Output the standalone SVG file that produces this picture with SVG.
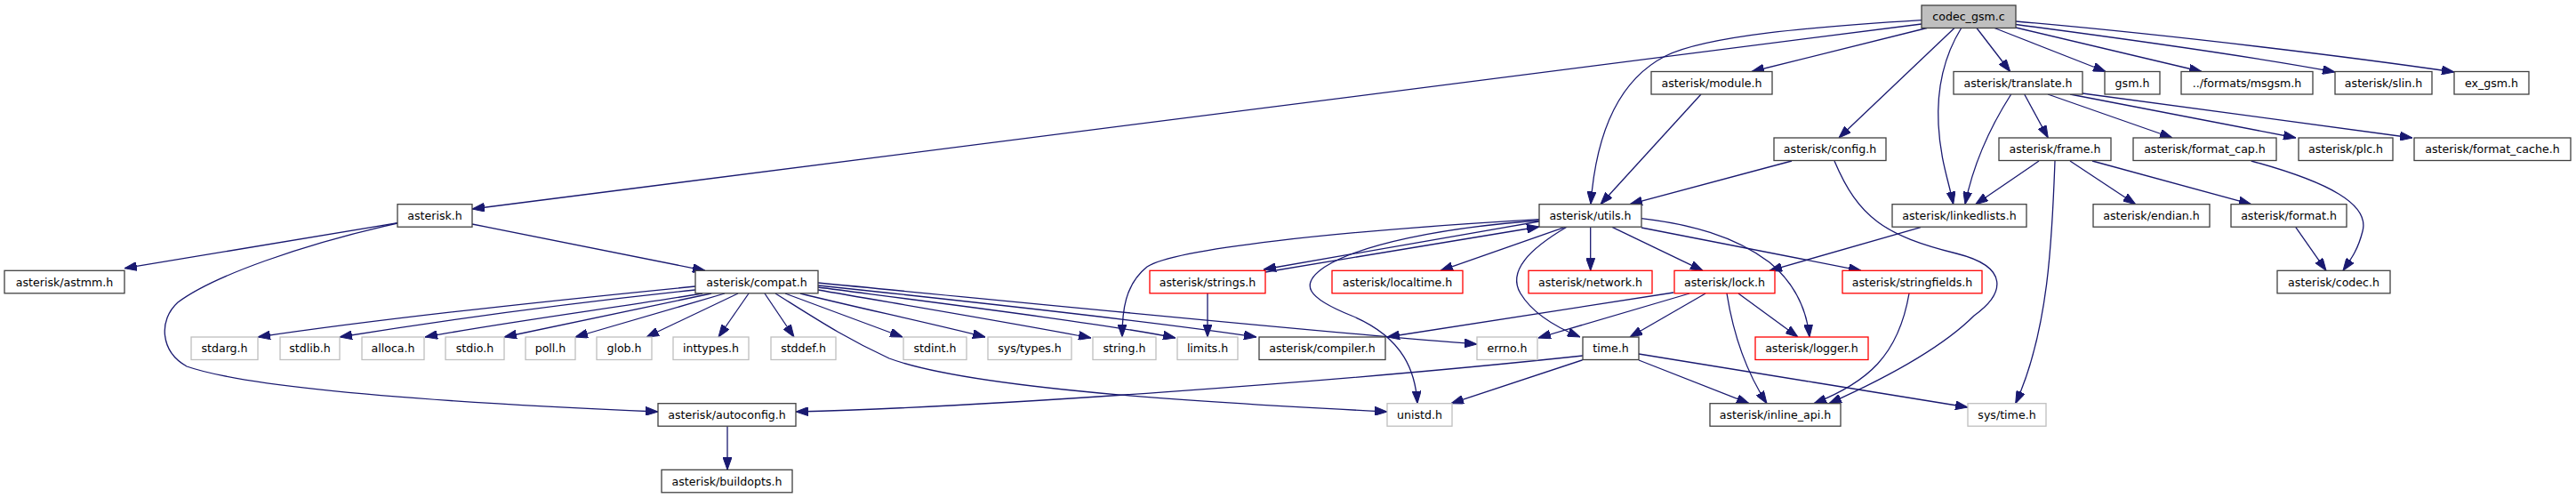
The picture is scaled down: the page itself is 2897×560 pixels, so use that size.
<svg xmlns="http://www.w3.org/2000/svg" width="2897" height="560" viewBox="0 0 2897 560">
<style>
rect{fill:#fff;stroke-width:1.3}
.k rect{stroke:#404040}
.g rect{stroke:#bfbfbf}
.r rect{stroke:#ff0000}
.root rect{fill:#bfbfbf;stroke:#404040}
text{font-family:"DejaVu Sans",sans-serif;font-size:12.6px;fill:#000;text-anchor:middle}
#edges path{fill:none;stroke:#191970;stroke-width:1.3;marker-end:url(#ah)}
</style>
<defs>
<marker id="ah" markerUnits="userSpaceOnUse" markerWidth="14" markerHeight="10" refX="14" refY="5" orient="auto">
<path d="M0,0 L14,5 L0,10 z" fill="#191970" stroke="#191970" stroke-width="1"/>
</marker>
</defs>
<rect x="0" y="0" width="2897" height="560" style="fill:#fff;stroke:none"/>
<g id="edges">
<path d="M2161,27 L531,235"/>
<path d="M2161,22.7 C2040,30 1920,40 1873,63 C1820,90 1795,150 1789,229.5"/>
<path d="M2167,31.5 L1970,80.5"/>
<path d="M2198,31.5 L2068,155"/>
<path d="M2205.7,31.5 C2185,65 2178,100 2180,140 C2182,180 2192,205 2196.7,229.7"/>
<path d="M2223,31.5 L2260.7,80.5"/>
<path d="M2243,31.5 L2368,80.5"/>
<path d="M2267,31 L2476,80.5"/>
<path d="M2267,27.5 C2400,45 2540,65 2626,81"/>
<path d="M2267,24 C2450,40 2650,65 2760,81"/>
<path d="M1913,106 L1800,229.7"/>
<path d="M2015,181 L1833,229.7"/>
<path d="M2063,181 C2090,245 2120,265 2200,285 C2260,300 2255,330 2220,355 C2180,395 2110,430 2057,453.7"/>
<path d="M2261.7,106 C2240,140 2220,180 2210,229.7"/>
<path d="M2276.7,106 L2303.3,155"/>
<path d="M2303,106 L2443,155"/>
<path d="M2328,106 L2582,155"/>
<path d="M2342,105 L2713,155"/>
<path d="M2293,181 L2221.7,229.7"/>
<path d="M2311,181 C2308,260 2305,370 2266.7,453.7"/>
<path d="M2328,181 L2401.7,229.7"/>
<path d="M2353,181 L2531.7,229.7"/>
<path d="M2531.7,181 C2620,205 2665,230 2657,260 C2652,280 2645,290 2635,304.3"/>
<path d="M2581.7,255.3 L2616,304.3"/>
<path d="M2160,255.7 L1990,304.3"/>
<path d="M1731,249 L1421,303"/>
<path d="M1423,306 L1731,255"/>
<path d="M1731,246.7 C1500,260 1320,280 1290,300 C1265,320 1262,350 1262,379"/>
<path d="M1731,248 C1620,256 1530,275 1490,300 C1460,320 1470,335 1520,355 C1580,380 1592,420 1594,453.7"/>
<path d="M1760,255.3 L1620,304.3"/>
<path d="M1762,255.3 C1720,280 1695,305 1710,330 C1725,355 1755,370 1777,379"/>
<path d="M1788.7,255.3 L1788.7,304.3"/>
<path d="M1813,255.3 L1915,304.3"/>
<path d="M1846,256 L2093,304.3"/>
<path d="M1846,245.7 C1900,252 1950,265 1990,295 C2020,320 2032,350 2035,379"/>
<path d="M447,250.7 L140,301.7"/>
<path d="M531,252 L793,304.3"/>
<path d="M447,251 C340,275 240,310 200,340 C178,360 180,395 210,412 C290,440 550,455 740,463"/>
<path d="M782,322 C650,335 450,355 290,379"/>
<path d="M782,326 C650,340 500,360 382,379"/>
<path d="M790,330 C700,345 570,362 478,379"/>
<path d="M800,330 L567,379"/>
<path d="M815,330 L647,379"/>
<path d="M830,330 L727,379"/>
<path d="M842,330 L808,379"/>
<path d="M860,330 L893,379"/>
<path d="M883,330 L1015,379"/>
<path d="M900,330 C960,345 1040,362 1108,379"/>
<path d="M920,326 C1000,340 1150,365 1227,380"/>
<path d="M920,323 C1050,340 1250,365 1322,380"/>
<path d="M920,321 C1100,340 1320,365 1413,379"/>
<path d="M920,318 C1200,345 1500,375 1661,387"/>
<path d="M872,330 C920,360 950,380 1000,403 C1100,440 1400,455 1560,463"/>
<path d="M1358,330 L1358,379"/>
<path d="M1882,329 L1560,379"/>
<path d="M1900,330 L1730,380"/>
<path d="M1918,330 L1833,379"/>
<path d="M1955,330 L2022,379"/>
<path d="M1942,330 C1950,380 1965,420 1987,453.7"/>
<path d="M2147,330 C2135,400 2100,430 2040,453.7"/>
<path d="M1780,400 C1500,430 1100,458 895,463"/>
<path d="M1780,404.7 L1632,453.7"/>
<path d="M1843,405 L1967,453.7"/>
<path d="M1843,398 C1950,415 2100,440 2213,458"/>
<path d="M818,479.3 L818,528.3"/>
</g>
<g id="n_codec_gsm" class="root"><rect x="2161" y="6" width="106" height="25.5"/><text x="2214" y="23.3">codec_gsm.c</text></g>
<g id="n_module" class="k"><rect x="1857" y="80.5" width="136" height="25.5"/><text x="1925" y="97.8">asterisk/module.h</text></g>
<g id="n_translate" class="k"><rect x="2197" y="80.5" width="145" height="25.5"/><text x="2269.5" y="97.8">asterisk/translate.h</text></g>
<g id="n_gsm" class="k"><rect x="2367" y="80.5" width="62" height="25.5"/><text x="2398" y="97.8">gsm.h</text></g>
<g id="n_msgsm" class="k"><rect x="2453" y="80.5" width="148" height="25.5"/><text x="2527" y="97.8">../formats/msgsm.h</text></g>
<g id="n_slin" class="k"><rect x="2626" y="80.5" width="109" height="25.5"/><text x="2680.5" y="97.8">asterisk/slin.h</text></g>
<g id="n_ex_gsm" class="k"><rect x="2760" y="80.5" width="84" height="25.5"/><text x="2802" y="97.8">ex_gsm.h</text></g>
<g id="n_config" class="k"><rect x="1995" y="155" width="126" height="25.5"/><text x="2058" y="172.3">asterisk/config.h</text></g>
<g id="n_frame" class="k"><rect x="2248" y="155" width="126" height="25.5"/><text x="2311" y="172.3">asterisk/frame.h</text></g>
<g id="n_format_cap" class="k"><rect x="2399" y="155" width="161" height="25.5"/><text x="2479.5" y="172.3">asterisk/format_cap.h</text></g>
<g id="n_plc" class="k"><rect x="2585" y="155" width="106" height="25.5"/><text x="2638" y="172.3">asterisk/plc.h</text></g>
<g id="n_format_cache" class="k"><rect x="2715" y="155" width="176" height="25.5"/><text x="2803" y="172.3">asterisk/format_cache.h</text></g>
<g id="n_asterisk" class="k"><rect x="447" y="229.7" width="84" height="25.5"/><text x="489" y="247">asterisk.h</text></g>
<g id="n_utils" class="k"><rect x="1731" y="229.7" width="115" height="25.5"/><text x="1788.5" y="247">asterisk/utils.h</text></g>
<g id="n_linkedlists" class="k"><rect x="2128" y="229.7" width="151" height="25.5"/><text x="2203.5" y="247">asterisk/linkedlists.h</text></g>
<g id="n_endian" class="k"><rect x="2354" y="229.7" width="131" height="25.5"/><text x="2419.5" y="247">asterisk/endian.h</text></g>
<g id="n_format" class="k"><rect x="2509" y="229.7" width="130" height="25.5"/><text x="2574" y="247">asterisk/format.h</text></g>
<g id="n_astmm" class="k"><rect x="5" y="304.3" width="135" height="25.5"/><text x="72.5" y="321.6">asterisk/astmm.h</text></g>
<g id="n_compat" class="k"><rect x="782" y="304.3" width="138" height="25.5"/><text x="851" y="321.6">asterisk/compat.h</text></g>
<g id="n_strings" class="r"><rect x="1293" y="304.3" width="130" height="25.5"/><text x="1358" y="321.6">asterisk/strings.h</text></g>
<g id="n_localtime" class="r"><rect x="1498" y="304.3" width="147" height="25.5"/><text x="1571.5" y="321.6">asterisk/localtime.h</text></g>
<g id="n_network" class="r"><rect x="1719" y="304.3" width="139" height="25.5"/><text x="1788.5" y="321.6">asterisk/network.h</text></g>
<g id="n_lock" class="r"><rect x="1883" y="304.3" width="113" height="25.5"/><text x="1939.5" y="321.6">asterisk/lock.h</text></g>
<g id="n_stringfields" class="r"><rect x="2072" y="304.3" width="157" height="25.5"/><text x="2150.5" y="321.6">asterisk/stringfields.h</text></g>
<g id="n_codec" class="k"><rect x="2561" y="304.3" width="127" height="25.5"/><text x="2624.5" y="321.6">asterisk/codec.h</text></g>
<g id="n_stdarg" class="g"><rect x="215" y="379" width="75" height="25.5"/><text x="252.5" y="396.3">stdarg.h</text></g>
<g id="n_stdlib" class="g"><rect x="315" y="379" width="67" height="25.5"/><text x="348.5" y="396.3">stdlib.h</text></g>
<g id="n_alloca" class="g"><rect x="407" y="379" width="70" height="25.5"/><text x="442" y="396.3">alloca.h</text></g>
<g id="n_stdio" class="g"><rect x="501" y="379" width="66" height="25.5"/><text x="534" y="396.3">stdio.h</text></g>
<g id="n_poll" class="g"><rect x="591" y="379" width="56" height="25.5"/><text x="619" y="396.3">poll.h</text></g>
<g id="n_glob" class="g"><rect x="671" y="379" width="62" height="25.5"/><text x="702" y="396.3">glob.h</text></g>
<g id="n_inttypes" class="g"><rect x="757" y="379" width="85" height="25.5"/><text x="799.5" y="396.3">inttypes.h</text></g>
<g id="n_stddef" class="g"><rect x="867" y="379" width="73" height="25.5"/><text x="903.5" y="396.3">stddef.h</text></g>
<g id="n_stdint" class="g"><rect x="1016" y="379" width="71" height="25.5"/><text x="1051.5" y="396.3">stdint.h</text></g>
<g id="n_systypes" class="g"><rect x="1111" y="379" width="94" height="25.5"/><text x="1158" y="396.3">sys/types.h</text></g>
<g id="n_string" class="g"><rect x="1229" y="379" width="71" height="25.5"/><text x="1264.5" y="396.3">string.h</text></g>
<g id="n_limits" class="g"><rect x="1324" y="379" width="68" height="25.5"/><text x="1358" y="396.3">limits.h</text></g>
<g id="n_compiler" class="k"><rect x="1416" y="379" width="142" height="25.5"/><text x="1487" y="396.3">asterisk/compiler.h</text></g>
<g id="n_errno" class="g"><rect x="1661" y="379" width="68" height="25.5"/><text x="1695" y="396.3">errno.h</text></g>
<g id="n_time" class="k"><rect x="1780" y="379" width="63" height="25.5"/><text x="1811.5" y="396.3">time.h</text></g>
<g id="n_logger" class="r"><rect x="1974" y="379" width="127" height="25.5"/><text x="2037.5" y="396.3">asterisk/logger.h</text></g>
<g id="n_autoconfig" class="k"><rect x="740" y="453.7" width="155" height="25.5"/><text x="817.5" y="471">asterisk/autoconfig.h</text></g>
<g id="n_unistd" class="g"><rect x="1560" y="453.7" width="73" height="25.5"/><text x="1596.5" y="471">unistd.h</text></g>
<g id="n_inline_api" class="k"><rect x="1923" y="453.7" width="147" height="25.5"/><text x="1996.5" y="471">asterisk/inline_api.h</text></g>
<g id="n_systime" class="g"><rect x="2213" y="453.7" width="88" height="25.5"/><text x="2257" y="471">sys/time.h</text></g>
<g id="n_buildopts" class="k"><rect x="744" y="528.3" width="147" height="25.5"/><text x="817.5" y="545.6">asterisk/buildopts.h</text></g>
</svg>
